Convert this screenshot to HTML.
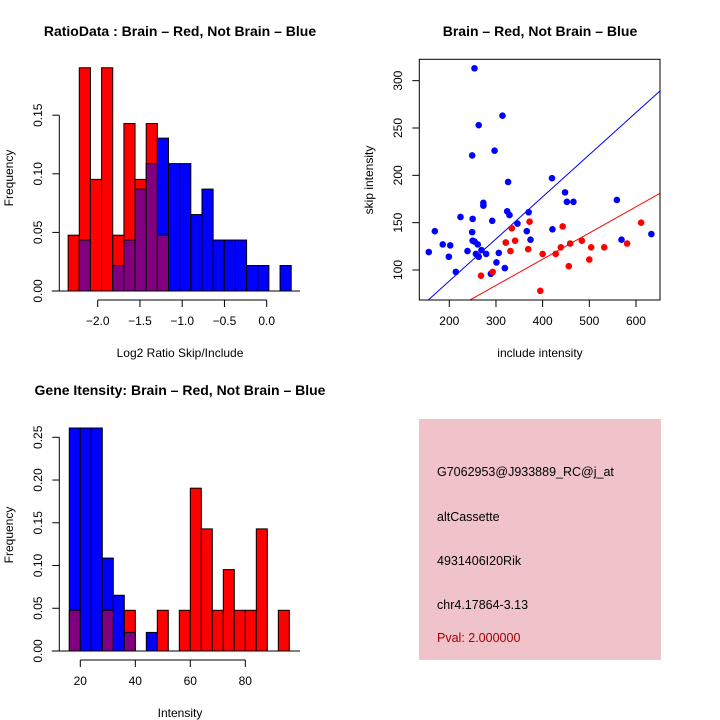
<!DOCTYPE html>
<html><head><meta charset="utf-8"><style>
body{margin:0;background:#fff}
svg{display:block;font-family:"Liberation Sans",sans-serif}
</style></head><body>
<svg id="c" width="720" height="720" xmlns="http://www.w3.org/2000/svg">
<rect width="720" height="720" fill="#fff"/>
<text x="180" y="36" text-anchor="middle" font-size="14" font-weight="bold">RatioData : Brain – Red, Not Brain – Blue</text>
<text x="540" y="36" text-anchor="middle" font-size="14" font-weight="bold">Brain – Red, Not Brain – Blue</text>
<text x="180" y="395" text-anchor="middle" font-size="14" font-weight="bold">Gene Itensity: Brain – Red, Not Brain – Blue</text>
<g id="p1"></g>
<g id="p2"></g>
<g id="p3"></g>
<g>
<rect x="419" y="419" width="242" height="241" fill="#f0c3cb"/>
<g font-size="12.5">
<text x="437" y="476">G7062953@J933889_RC@j_at</text>
<text x="437" y="521">altCassette</text>
<text x="437" y="565">4931406I20Rik</text>
<text x="437" y="609">chr4.17864-3.13</text>
<text x="437" y="642" fill="#a00000">Pval: 2.000000</text>
</g></g>
</svg>
<script>
// ---- Panel 1 data ----
const ratioBinStart = -2.35, ratioBinWidth = 0.132;
const ratioRed = [1,4,2,4,1,3,2,3,1,0,0,0,0,0,0,0,0,0,0,0].map(v=>v/21);
const ratioBlue = [0,2,0,0,1,2,4,5,6,5,5,3,4,2,2,2,1,1,0,1].map(v=>v/46);
const ratioXTicks = [-2.0,-1.5,-1.0,-0.5,0.0];
const ratioXLabels = ["−2.0","−1.5","−1.0","−0.5","0.0"];
const ratioYTicks = [0,0.05,0.10,0.15];
const ratioYLabels = ["0.00","0.05","0.10","0.15"];
// ---- Panel 3 data ----
const intBinStart = 16, intBinWidth = 4;
const intRed = [1,0,0,1,0,1,0,0,1,0,1,4,3,1,2,1,1,3,0,1].map(v=>v/21);
const intBlue = [12,12,12,5,3,1,0,1,0,0,0,0,0,0,0,0,0,0,0,0].map(v=>v/46);
const intXTicks = [20,40,60,80];
const intXLabels = ["20","40","60","80"];
const intYTicks = [0,0.05,0.10,0.15,0.20,0.25];
const intYLabels = ["0.00","0.05","0.10","0.15","0.20","0.25"];
// ---- Panel 2 data ----
const blueX = [254,314,263,297,249,420,326,448,466,452,559,273,273,370,324,329,224,250,292,169,249,366,346,421,374,569,633,156,186,202,250,254,261,239,199,269,263,279,257,306,321,301,319,214,289];
const blueY = [313,263,253,226,221,197,193,182,172,172,174,171,168,161,162,158,156,154,152,141,140,141,149,143,132,132,138,119,127,126,131,130,127,120,114,121,114,117,117,118,129,108,102,98,96];
const redX = [268,293,334,341,331,372,369,400,428,395,443,439,459,456,484,504,500,532,581,611,321];
const redY = [94,98,144,131,120,151,122,117,117,78,146,124,128,104,131,124,111,124,128,150,129];
const blueSlope = 0.4448, blueInt = -0.6;
const redSlope = 0.2768, redInt = 0.7;
const scXTicks = [200,300,400,500,600];
const scYTicks = [100,150,200,250,300];

const NS="http://www.w3.org/2000/svg";
function mk(parent,tag,attrs){const e=document.createElementNS(NS,tag);for(const k in attrs)e.setAttribute(k,attrs[k]);parent.appendChild(e);return e;}

function histogram(g,o){
  const sx=v=>o.x0+(v-o.xa)*o.xs, sy=v=>o.y0-v*o.ys;
  const n=o.red.length;
  for(let i=0;i<n;i++){
    const l=sx(o.start+i*o.width), r=sx(o.start+(i+1)*o.width);
    const rv=o.red[i], bv=o.blue[i];
    const hi=Math.max(rv,bv), lo=Math.min(rv,bv);
    if(hi>0){
      const b=mk(g,'rect',{x:l,y:sy(hi),width:r-l,height:sy(0)-sy(hi),fill:rv>=bv?'#ff0000':'#0000ff',stroke:'#000','stroke-width':1});
      
      
    }
    if(lo>0){
      const p=mk(g,'rect',{x:l,y:sy(lo),width:r-l,height:sy(0)-sy(lo),fill:'#800080',stroke:'#000','stroke-width':1});
      
      
    }
  }
  const base=mk(g,'line',{x1:51.7,x2:300,y1:o.y0,y2:o.y0,stroke:'#000','stroke-width':1});
  
  
  // x axis
  const ax=o.y0+9;
  const xl=mk(g,'line',{x1:sx(o.xt[0]),x2:sx(o.xt[o.xt.length-1]),y1:ax,y2:ax,stroke:'#000'});
  
  
  o.xt.forEach((t,i)=>{
    mk(g,'line',{x1:sx(t),x2:sx(t),y1:ax,y2:ax+7,stroke:'#000'});
    const tx=mk(g,'text',{x:sx(t),y:ax+25,'text-anchor':'middle','font-size':12});
    tx.textContent=o.xl[i];
    
    
  });
  const yl=mk(g,'line',{x1:59.3,x2:59.3,y1:sy(o.yt[0]),y2:sy(o.yt[o.yt.length-1]),stroke:'#000'});
  
  
  o.yt.forEach((t,i)=>{
    mk(g,'line',{x1:52.3,x2:59.3,y1:sy(t),y2:sy(t),stroke:'#000'});
    const tx=mk(g,'text',{x:0,y:0,'text-anchor':'middle','font-size':12,transform:`translate(42,${sy(t)}) rotate(-90)`});
    tx.textContent=o.yl[i];
    
    
  });
  const xt=mk(g,'text',{x:180,y:o.xtitleY,'text-anchor':'middle','font-size':12});
  xt.textContent=o.xtitle;
  
  
  const yt=mk(g,'text',{x:0,y:0,'text-anchor':'middle','font-size':12,transform:`translate(13,${o.yMid}) rotate(-90)`});
  yt.textContent='Frequency';
  
  
}

histogram(document.getElementById('p1'),{start:ratioBinStart,width:ratioBinWidth,red:ratioRed,blue:ratioBlue,
  x0:266.7,xa:0,xs:84.5,y0:291,ys:1172,xt:ratioXTicks,xl:ratioXLabels,yt:ratioYTicks,yl:ratioYLabels,
  xtitle:'Log2 Ratio Skip/Include',xtitleY:357,yMid:178});
histogram(document.getElementById('p3'),{start:intBinStart,width:intBinWidth,red:intRed,blue:intBlue,
  x0:80.3,xa:20,xs:2.75,y0:651,ys:854.8,xt:intXTicks,xl:intXLabels,yt:intYTicks,yl:intYLabels,
  xtitle:'Intensity',xtitleY:717,yMid:535});

// scatter
(function(){
  const g=document.getElementById('p2');
  const L=419.3,R=660,T=59.3,B=300;
  const sx=v=>449.3+(v-200)*0.4667, sy=v=>270-(v-100)*0.9467;
  const cp=mk(g,'clipPath',{id:'clip2'});mk(cp,'rect',{x:L,y:T,width:R-L,height:B-T});
  const lines=[[blueSlope,blueInt,'#0000ff','blue-fit-line'],[redSlope,redInt,'#ff0000','red-fit-line']];
  lines.forEach(([s,c,col,nm])=>{
    const ln=mk(g,'line',{x1:sx(100),y1:sy(s*100+c),x2:sx(700),y2:sy(s*700+c),stroke:col,'stroke-width':1,'clip-path':'url(#clip2)'});
    
    
  });
  blueX.forEach((x,i)=>{
    const p=mk(g,'circle',{cx:sx(x),cy:sy(blueY[i]),r:3.3,fill:'#0000ff'});
    
    
  });
  redX.forEach((x,i)=>{
    const p=mk(g,'circle',{cx:sx(x),cy:sy(redY[i]),r:3.3,fill:'#ff0000'});
    
    
  });
  const box=mk(g,'rect',{x:L,y:T,width:R-L,height:B-T,fill:'none',stroke:'#000'});
  
  
  scXTicks.forEach(t=>{
    mk(g,'line',{x1:sx(t),x2:sx(t),y1:B,y2:B+7,stroke:'#000'});
    const tx=mk(g,'text',{x:sx(t),y:B+25,'text-anchor':'middle','font-size':12});
    tx.textContent=String(t);
    
    
  });
  scYTicks.forEach(t=>{
    mk(g,'line',{x1:L-7,x2:L,y1:sy(t),y2:sy(t),stroke:'#000'});
    const tx=mk(g,'text',{x:0,y:0,'text-anchor':'middle','font-size':12,transform:`translate(402,${sy(t)}) rotate(-90)`});
    tx.textContent=String(t);
    
    
  });
  const xt=mk(g,'text',{x:540,y:357,'text-anchor':'middle','font-size':12});
  xt.textContent='include intensity';
  
  
  const yt=mk(g,'text',{x:0,y:0,'text-anchor':'middle','font-size':12,transform:'translate(373,180) rotate(-90)'});
  yt.textContent='skip intensity';
  
  
})();
</script>
</body></html>
